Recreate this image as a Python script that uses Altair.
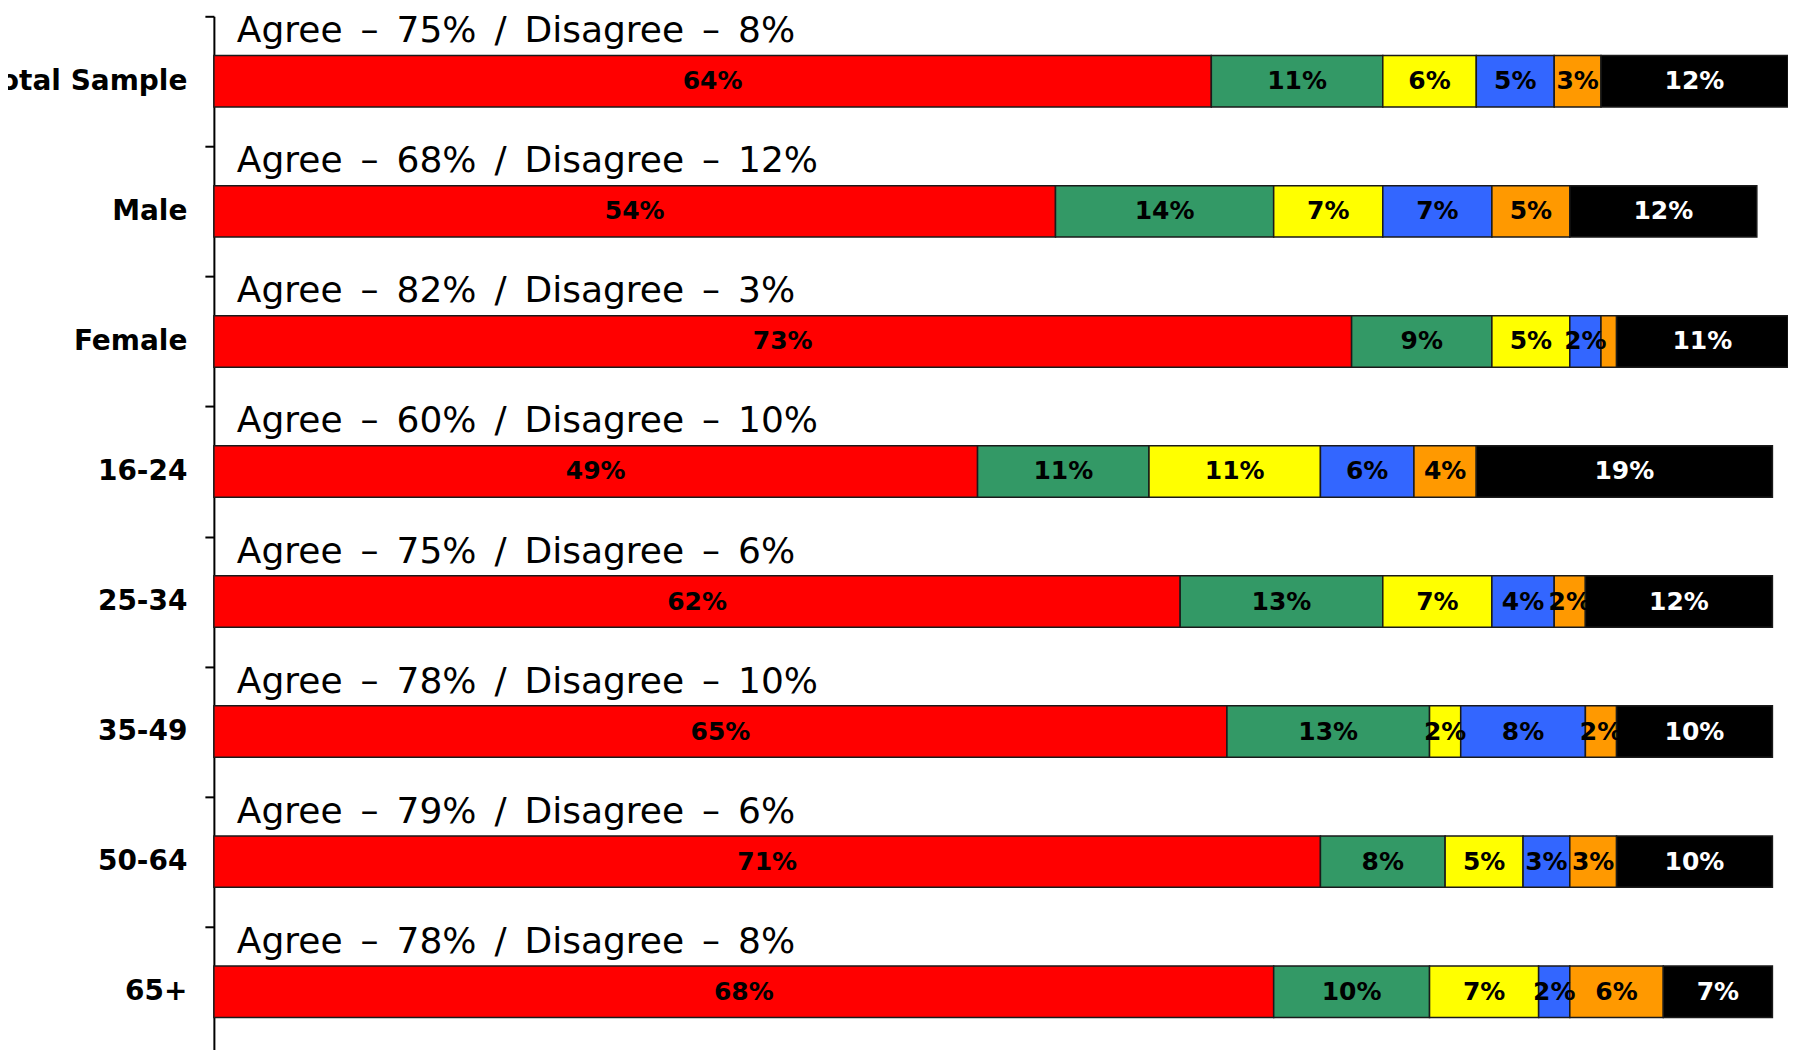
import altair as alt
import pandas as pd

groups = ["Total Sample", "Male", "Female", "16-24", "25-34", "35-49", "50-64", "65+"]
series = ["Strongly agree", "Tend to agree", "Neither", "Tend to disagree", "Strongly disagree", "Don't know"]
colors = ["#FF0000", "#339966", "#FFFF00", "#3366FF", "#FF9900", "#000000"]

strongly_agree = [64, 54, 73, 49, 62, 65, 71, 68]
tend_agree = [11, 14, 9, 11, 13, 13, 8, 10]
neither = [6, 7, 5, 11, 7, 2, 5, 7]
tend_disagree = [5, 7, 2, 6, 4, 8, 3, 2]
strongly_disagree = [3, 5, 1, 4, 2, 2, 3, 6]
dont_know = [12, 12, 11, 19, 12, 10, 10, 7]

agree_total = [75, 68, 82, 60, 75, 78, 79, 78]
disagree_total = [8, 12, 3, 10, 6, 10, 6, 8]

series_values = [strongly_agree, tend_agree, neither, tend_disagree, strongly_disagree, dont_know]

rows = []
for si, (name, vals) in enumerate(zip(series, series_values)):
    for g, v in zip(groups, vals):
        rows.append({"group": g, "series": name, "idx": si, "value": v})
df = pd.DataFrame(rows)

SP = "\u2002"
notes_df = pd.DataFrame({
    "group": groups,
    "note": [f"Agree{SP}\u2013{SP}{a}%{SP}/{SP}Disagree{SP}\u2013{SP}{d}%" for a, d in zip(agree_total, disagree_total)],
    "zero": [0] * len(groups),
})

W = 1575
H = 1034
FONT = "DejaVu Sans"

y_scale = alt.Scale(domain=groups, paddingInner=0, paddingOuter=0, range=[0, 1041])

y_enc = alt.Y(
    "group:N",
    sort=groups,
    scale=y_scale,
    axis=alt.Axis(
        title=None,
        labelFont=FONT,
        labelFontSize=28,
        labelFontWeight="bold",
        labelColor="black",
        labelPadding=18,
        labelLimit=0,
        tickBand="extent",
        tickSize=9,
        tickColor="black",
        tickWidth=2,
        domainColor="black",
        domainWidth=2,
        grid=False,
    ),
)

x_scale = alt.Scale(domain=[0, 101], nice=False, zero=True)

base = alt.Chart(df).transform_stack(
    stack="value",
    groupby=["group"],
    sort=[alt.SortField("idx", order="ascending")],
    as_=["x0", "x1"],
).transform_calculate(
    mid="(datum.x0 + datum.x1) / 2",
    label="datum.value >= 1.5 ? datum.value + '%' : ''",
)

bars = base.mark_bar(stroke="#1a1a1a", strokeWidth=1.5, size=51.5).encode(
    x=alt.X("x0:Q", scale=x_scale, axis=None),
    x2="x1:Q",
    y=y_enc,
    color=alt.Color("series:N", scale=alt.Scale(domain=series, range=colors), legend=None),
)

labels = base.mark_text(font=FONT, fontSize=25, fontWeight="bold", align="center", baseline="middle").encode(
    x=alt.X("mid:Q", scale=x_scale, axis=None),
    y=alt.Y("group:N", sort=groups),
    text="label:N",
    color=alt.condition(alt.datum.series == "Don't know", alt.value("white"), alt.value("black")),
)

notes = alt.Chart(notes_df).mark_text(
    font=FONT, fontSize=36, align="left", baseline="alphabetic", dx=23, yOffset=-39, color="black"
).encode(
    x=alt.X("zero:Q", scale=x_scale, axis=None),
    y=alt.Y("group:N", sort=groups),
    text="note:N",
)

chart = alt.layer(bars, labels, notes).properties(
    width=W,
    height=H,
    padding={"left": 206, "top": 8, "right": 0, "bottom": 0},
    autosize=alt.AutoSizeParams(type="none"),
).configure_view(stroke=None)

chart.save("out.html", embed_options={"renderer": "svg", "actions": False})
